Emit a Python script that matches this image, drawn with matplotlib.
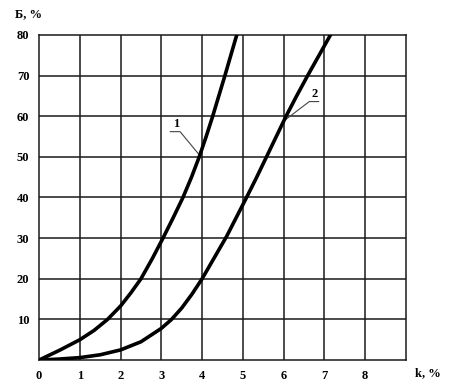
import matplotlib
matplotlib.use("Agg")
import matplotlib.pyplot as plt

# curve values (k, % -> Б, %)
k1 = [0, 0.5, 1.0, 1.35, 1.68, 2.0, 2.25, 2.5, 2.78, 3.04, 3.29, 3.53, 3.74, 3.93, 4.1, 4.26, 4.41, 4.56, 4.705, 4.85]
b1 = [0, 2.4, 5.0, 7.3, 10.0, 13.3, 16.5, 20.0, 25.0, 30.0, 35.0, 40.0, 45.0, 50.0, 55.0, 60.0, 65.0, 70.0, 75.0, 80.0]

k2 = [0, 0.5, 1.0, 1.5, 2.0, 2.5, 3.0, 3.25, 3.5, 3.75, 4.0, 4.3, 4.6, 4.85, 5.09, 5.34, 5.58, 5.82, 6.06, 6.32, 6.59, 6.87, 7.15]
b2 = [0, 0.25, 0.6, 1.3, 2.5, 4.5, 7.8, 10.0, 12.8, 16.2, 20.0, 25.2, 30.4, 35.3, 40.0, 45.0, 50.0, 55.0, 60.0, 65.0, 70.0, 75.0, 80.0]

x_ticks = [0, 1, 2, 3, 4, 5, 6, 7, 8]
y_ticks = [10, 20, 30, 40, 50, 60, 70, 80]

plt.rcParams['font.family'] = ['Liberation Serif', 'DejaVu Serif']

fig = plt.figure(figsize=(4.49, 3.88), dpi=100)
ax = fig.add_axes([0.087, 0.072, 0.817, 0.838])

ax.set_xlim(0, 9)
ax.set_ylim(0, 80)

# grid lines at every unit / every 10
for xv in range(1, 9):
    ax.axvline(xv, color='#1a1a1a', lw=1.1, zorder=1)
for yv in y_ticks[:-1]:
    ax.axhline(yv, color='#1a1a1a', lw=1.1, zorder=1)
for s in ax.spines.values():
    s.set_color('#1a1a1a')
    s.set_linewidth(1.1)

ax.plot(k1, b1, color='black', lw=2.6, solid_joinstyle='round', zorder=3)
ax.plot(k2, b2, color='black', lw=2.6, solid_joinstyle='round', zorder=3)

ax.set_xticks(x_ticks)
ax.set_yticks(y_ticks)
ax.set_xticklabels([str(v) for v in x_ticks], fontsize=9, fontweight='bold')
ax.set_yticklabels([str(v) for v in y_ticks], fontsize=9, fontweight='bold')
ax.tick_params(length=0, pad=7)

ax.text(9.55, -3.2, "k, %", fontsize=9, fontweight='bold', ha='center', va='center', clip_on=False)
ax.text(-0.27, 85.2, "Б, %", fontsize=9, fontweight='bold', ha='center', va='center', clip_on=False)

# curve labels with leader lines
ax.plot([3.22, 3.46, 3.93], [56.2, 56.2, 50.5], color='#444444', lw=0.8, zorder=2)
ax.text(3.36, 56.6, "1", fontsize=9, fontweight='bold', ha='center', va='bottom')
ax.plot([6.04, 6.63, 6.86], [59.1, 63.6, 63.6], color='#444444', lw=0.8, zorder=2)
ax.text(6.75, 64.0, "2", fontsize=9, fontweight='bold', ha='center', va='bottom')

fig.savefig("out.png", dpi=100)
